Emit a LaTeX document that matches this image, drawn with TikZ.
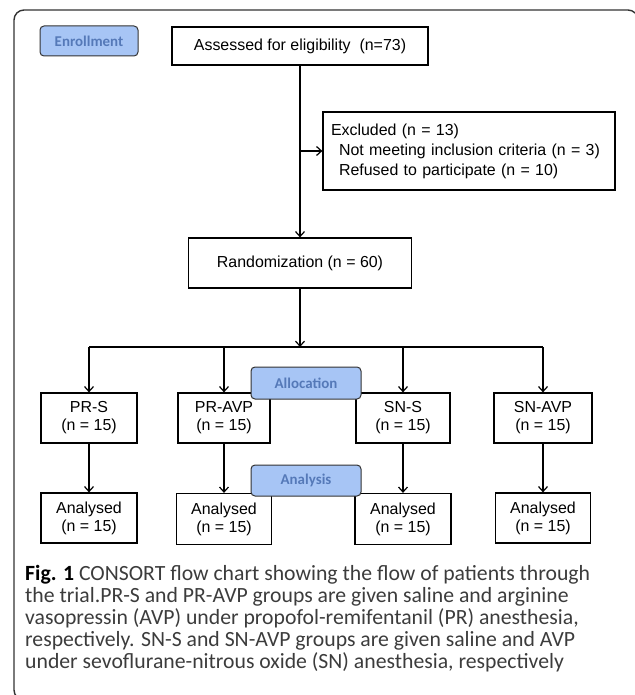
\documentclass[tikz,border=0pt]{standalone}
\usepackage{fontspec}
\setmainfont{Liberation Sans}
\newfontfamily\capfont{Carlito}
\usetikzlibrary{arrows.meta}
\definecolor{lblfill}{HTML}{A7C5F5}
\definecolor{lbltext}{HTML}{5579B8}
\definecolor{framec}{HTML}{333333}
\definecolor{captext}{HTML}{3C3C3C}
\begin{document}
\begin{tikzpicture}[x=1bp,y=-1bp,
  box/.style={draw=black, line width=1.2bp, fill=white, inner sep=0pt, align=center, font=\fontsize{16}{18}\selectfont},
  lbl/.style={draw=framec, line width=1bp, rounded corners=4bp, fill=lblfill, text=lbltext, inner sep=0pt, font=\capfont\bfseries\fontsize{15}{18}\selectfont},
  arr/.style={line width=1.2bp, -{Straight Barb[length=5bp,width=9bp,line width=1.2bp]}},
  ln/.style={line width=1.2bp},
  capline/.style={anchor=base west, inner sep=0pt, text=captext, font=\capfont\fontsize{21.8}{22}\selectfont}]
\useasboundingbox (0,0) rectangle (635,695);
\begin{scope}
\clip (0,0) rectangle (635,695);
\draw[framec, line width=1.4bp, rounded corners=10bp] (14,10) rectangle (638,700);
\end{scope}

\node[box, minimum width=256bp, minimum height=38bp] (assess) at (300,46) {Assessed for eligibility\ \ (n=73)};
\node[box, minimum width=292bp, minimum height=78bp, text width=276bp, align=left, inner xsep=8bp, font=\fontsize{16}{20}\selectfont] (excl) at (469,151) {Excluded (n = 13)\\\hspace*{8bp}Not meeting inclusion criteria (n = 3)\\\hspace*{8bp}Refused to participate (n = 10)};
\node[box, minimum width=223bp, minimum height=50bp] (rand) at (300,263) {Randomization (n = 60)};

\node[box, minimum width=96bp, minimum height=50bp] (prs) at (89,418) {PR-S\\(n = 15)};
\node[box, minimum width=92bp, minimum height=50bp] (pravp) at (224,418) {PR-AVP\\(n = 15)};
\node[box, minimum width=94bp, minimum height=50bp] (sns) at (403,418) {SN-S\\(n = 15)};
\node[box, minimum width=98bp, minimum height=50bp] (snavp) at (543,418) {SN-AVP\\(n = 15)};

\node[box, minimum width=96bp, minimum height=50bp] (aprs) at (89,518) {Analysed\\(n = 15)};
\node[box, minimum width=95bp, minimum height=51bp] (apravp) at (224,519) {Analysed\\(n = 15)};
\node[box, minimum width=96bp, minimum height=51bp] (asns) at (403,519) {Analysed\\(n = 15)};
\node[box, minimum width=95bp, minimum height=50bp] (asnavp) at (543,518) {Analysed\\(n = 15)};

\draw[arr] (assess.south) -- (rand.north);
\draw[arr] (assess.south |- excl.west) -- (excl.west);
\coordinate (br) at (300,347);
\draw[arr] (rand.south) -- (br);
\draw[ln] (prs.north |- br) -- (snavp.north |- br);
\foreach \n in {prs,pravp,sns,snavp}{
  \draw[arr] (\n.north |- br) -- (\n.north);
  \draw[arr] (\n.south) -- (a\n.north);
}

\node[lbl, minimum width=98bp, minimum height=30bp] (enroll) at (89,41) {Enrollment};
\node[lbl, minimum width=110bp, minimum height=32bp] (alloc) at (306,383) {Allocation};
\node[lbl, minimum width=110bp, minimum height=31bp] (anal) at (306,480.5) {Analysis};

\node[capline] (c1) at (25,580) {\textcolor{black}{\bfseries Fig. 1} CONSORT flow chart showing the flow of patients through};
\node[capline] (c2) at (25,602) {the trial.PR-S and PR-AVP groups are given saline and arginine};
\node[capline] (c3) at (25,624) {vasopressin (AVP) under propofol-remifentanil (PR) anesthesia,};
\node[capline] (c4) at (25,646) {respectively. SN-S and SN-AVP groups are given saline and AVP};
\node[capline] (c5) at (25,668) {under sevoflurane-nitrous oxide (SN) anesthesia, respectively};
\end{tikzpicture}
\end{document}
